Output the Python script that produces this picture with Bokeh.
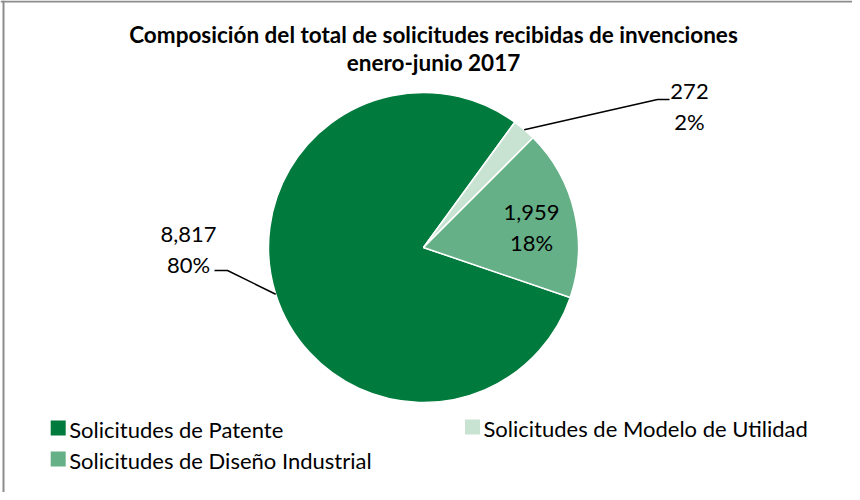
import numpy as np
from bokeh.plotting import figure
from bokeh.models import ColumnDataSource, Range1d, Span
from bokeh.core.properties import value
from bokeh.embed import file_html
from bokeh.resources import INLINE

# ---- data ----
categories = ["Solicitudes de Patente", "Solicitudes de Modelo de Utilidad",
              "Solicitudes de Diseño Industrial"]
counts = [8817, 272, 1959]
colors = ["#007A3D", "#C9E3D3", "#66B088"]
title_lines = ["Composición del total de solicitudes recibidas de invenciones",
               "enero-junio 2017"]

# ---- layout (screen-like coordinates: x = px, y = 500 - px) ----
W, H = 852, 492
def sy(v):
    return 500 - v

cx, cy, R = 431, sy(255), 155
first_angle = np.deg2rad(-18.8)  # start of first slice, slices run clockwise

total = float(sum(counts))
frac = np.array(counts) / total
cum = np.concatenate([[0], np.cumsum(frac)])
starts = first_angle - 2 * np.pi * cum[:-1]
ends = first_angle - 2 * np.pi * cum[1:]
mids = (starts + ends) / 2

count_txt = [f"{c:,}" for c in counts]
pct_txt = [f"{round(100 * f)}%" for f in frac]

font = "Lato"

p = figure(width=W, height=H, x_range=Range1d(8, 860), y_range=Range1d(0, 492),
           min_border=0, output_backend="svg", toolbar_location=None)
p.axis.visible = False
p.grid.visible = False
p.outline_line_color = None
p.background_fill_color = "white"
p.border_fill_color = "white"

# chart border (left & top)
p.add_layout(Span(location=11, dimension="height", line_color="#8c8c8c", line_width=2))
p.add_layout(Span(location=491, dimension="width", line_color="#8c8c8c", line_width=2))

src = ColumnDataSource(dict(start=starts, end=ends, color=colors, cat=categories))
p.wedge(x=cx, y=cy, radius=R, start_angle="start", end_angle="end",
        direction="clock", fill_color="color", line_color="white", line_width=1.5,
        source=src)

# leader lines (outer labels for slices 0 and 1)
edge_x = cx + R * np.cos(mids)
edge_y = cy + R * np.sin(mids)
elbows = {0: ((235, sy(278)), (222, sy(278))), 1: ((665, sy(107)), (677, sy(107)))}
xs, ys = [], []
for i, (e1, e2) in elbows.items():
    xs.append([edge_x[i], e1[0], e2[0]])
    ys.append([edge_y[i], e1[1], e2[1]])
p.multi_line(xs=xs, ys=ys, line_color="black", line_width=1.5)

# data labels
label_pos = [(196, 256.7), (697, 114), (539, 235)]
lx = [pp[0] for pp in label_pos]
ly1 = [sy(pp[1] - 14.8) for pp in label_pos]
ly2 = [sy(pp[1] + 14.8) for pp in label_pos]
p.text(x=lx, y=ly1, text=count_txt, text_font=value(font), text_font_size=value("22px"),
       text_align="center", text_baseline="middle", text_color="black")
p.text(x=lx, y=ly2, text=pct_txt, text_font=value(font), text_font_size=value("22px"),
       text_align="center", text_baseline="middle", text_color="black")

# title
p.text(x=[441, 441], y=[sy(42), sy(70)], text=title_lines, text_font=value(font),
       text_font_size=value("22.5px"), text_font_style="bold", text_align="center",
       text_baseline="middle", text_color="black")

# legend (two columns, row-major)
leg_sq = [(65.7, 435.5), (480, 434.5), (65.7, 466.5)]
p.rect(x=[q[0] for q in leg_sq], y=[sy(q[1]) for q in leg_sq], width=15, height=15,
       fill_color=colors, line_color=None)
p.text(x=[q[0] + 11 for q in leg_sq], y=[sy(q[1] + 1) for q in leg_sq], text=categories,
       text_font=value(font), text_font_size=value("22px"), text_align="left",
       text_baseline="middle", text_color="black")

open("out.html", "w").write(file_html(p, INLINE))
